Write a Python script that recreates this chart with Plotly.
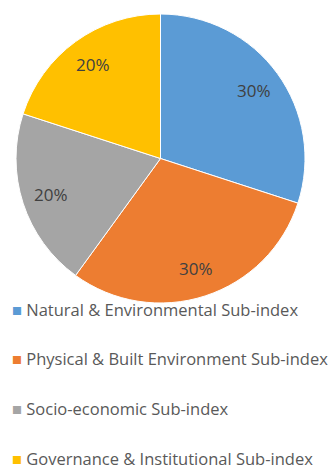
import math
import plotly.graph_objects as go

categories = ["Natural & Environmental Sub-index",
              "Physical & Built Environment Sub-index",
              "Socio-economic Sub-index",
              "Governance & Institutional Sub-index"]
values = [30, 30, 20, 20]
colors = ["#5B9BD5", "#ED7D31", "#A5A5A5", "#FFC000"]

W, H = 331, 470
cx, cy, R = 160.5, 158.5, 144.5

fig = go.Figure()
fig.add_trace(go.Pie(
    labels=categories, values=values, sort=False, direction="clockwise",
    rotation=0, marker=dict(colors=colors, line=dict(color="white", width=1)),
    textinfo="none",
    domain=dict(x=[(cx - R) / W, (cx + R) / W], y=[1 - (cy + R) / H, 1 - (cy - R) / H]),
    showlegend=False, hoverinfo="label+percent",
))

# percentage labels placed along each slice's mid angle
total = sum(values)
acc = 0
for v in values:
    mid = (acc + v / 2) / total * 2 * math.pi
    acc += v
    px = cx + math.sin(mid) * R * 0.80
    py = cy - math.cos(mid) * R * 0.80
    fig.add_annotation(x=px / W, y=1 - py / H, xref="paper", yref="paper",
                       xanchor="center", yanchor="middle",
                       text=f"{round(v / total * 100)}%", showarrow=False,
                       font=dict(family="Open Sans", size=17, color="#404040"))

# legend rows below the pie
row0, row_gap = 309, 49.7
for i, (c, col) in enumerate(zip(categories, colors)):
    fig.add_annotation(x=11 / W, y=1 - (row0 + i * row_gap) / H, xref="paper", yref="paper",
                       xanchor="left", yanchor="middle", showarrow=False, borderpad=0,
                       text=f'<span style="color:{col}">■</span> {c}',
                       font=dict(family="Open Sans", size=16.5, color="#595959"))

fig.update_layout(
    width=W, height=H, margin=dict(l=0, r=0, t=0, b=0),
    paper_bgcolor="white", plot_bgcolor="white", showlegend=False,
)
fig.write_html("out.html")
